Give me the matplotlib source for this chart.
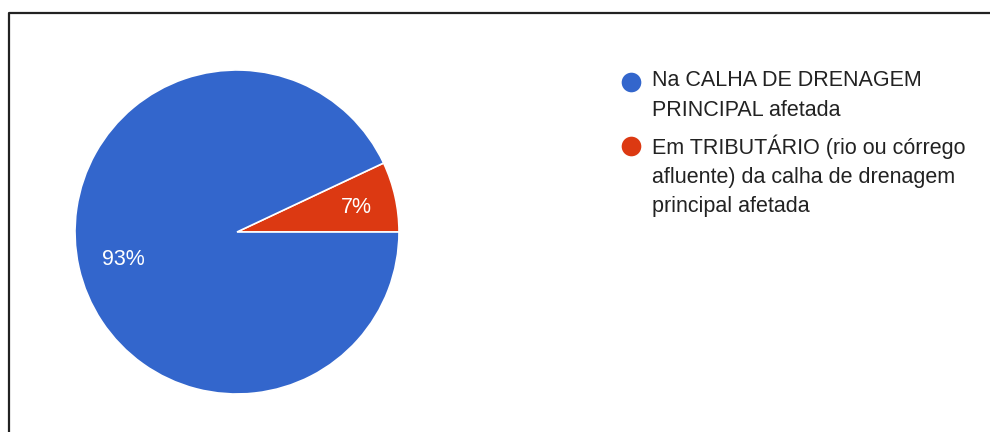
import matplotlib
matplotlib.use("Agg")
import matplotlib.pyplot as plt

matplotlib.rc("font", family=["Liberation Sans", "DejaVu Sans"])

labels = ["Na CALHA DE DRENAGEM\nPRINCIPAL afetada",
          "Em TRIBUTÁRIO (rio ou córrego\nafluente) da calha de drenagem\nprincipal afetada"]
values = [93, 7]
colors = ["#3366cc", "#dc3912"]

W, H = 990, 432


def draw_chart():
    fig = plt.figure(figsize=(W / 100, H / 100), dpi=100)
    ax = fig.add_axes([0, 0, 1, 1])

    # red slice sits on the right, starting at 3 o'clock going up
    order = [1, 0]
    wedges, texts, autotexts = ax.pie(
        [values[i] for i in order],
        colors=[colors[i] for i in order],
        center=(237, H - 232), radius=162,
        startangle=0,
        autopct="%1.0f%%", pctdistance=0.735,
        wedgeprops=dict(edgecolor="white", linewidth=1.2),
        textprops=dict(color="white", fontsize=15.5),
        frame=True)
    # nudge the percentages a bit to the right like the original
    for t in autotexts:
        x, y = t.get_position()
        t.set_position((x + 3, y - 1.5))
    ax.set_xlim(0, W)
    ax.set_ylim(0, H)
    ax.set_aspect("equal")
    ax.axis("off")

    # legend drawn by hand so the marker sits on the first line
    top = 70.5  # pixels from the top edge
    for lab, col in zip(labels, colors):
        ax.scatter([631], [H - top - 11], s=200, color=col, zorder=3,
                   linewidths=0)
        ax.text(652, H - top, lab, fontsize=15.5, color="#222222",
                va="top", ha="left", linespacing=1.51)
        top += 29.5 * lab.count("\n") + 34.5

    # frame lines of the screenshot
    ax.plot([9, 9, W], [0, H - 13, H - 13], color="#222222", lw=1.6,
            solid_capstyle="butt", clip_on=False)

    fig.savefig("out.png", dpi=100)


draw_chart()
